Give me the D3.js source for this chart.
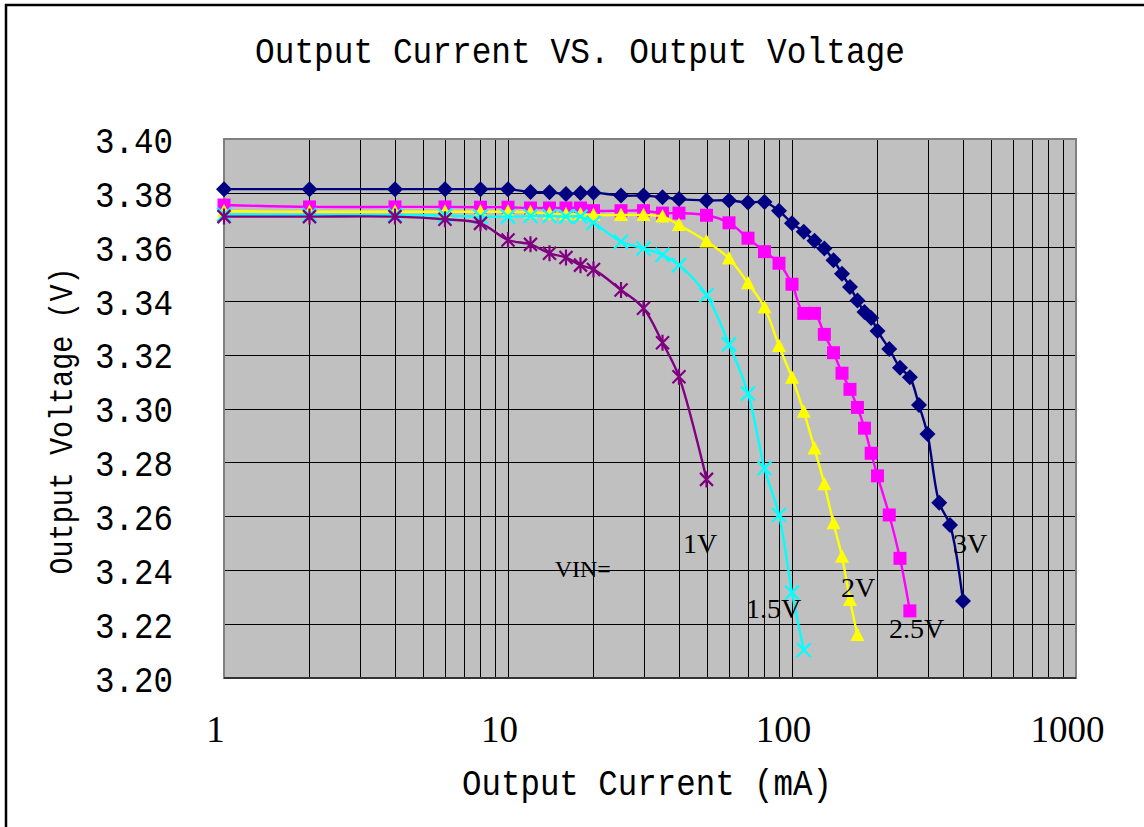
<!DOCTYPE html>
<html>
<head>
<meta charset="utf-8">
<script src="https://cdn.jsdelivr.net/npm/d3@7"></script>
<style>
html,body{margin:0;padding:0;background:#fff;}
svg{display:block;}
</style>
</head>
<body>
<svg id="chart" width="1144" height="827"></svg>
<script>
// ---- data ----
const title = "Output Current VS. Output Voltage";
const xTitle = "Output Current (mA)";
const yTitle = "Output Voltage (V)";
const xTickValues = [1, 10, 100, 1000];
const yTickValues = [3.20, 3.22, 3.24, 3.26, 3.28, 3.30, 3.32, 3.34, 3.36, 3.38, 3.40];

const current_3V = [1,2,4,6,8,10,12,14,16,18,20,25,30,35,40,50,60,70,80,90,100,110,120,130,140,150,160,170,180,190,200,220,240,260,280,300,330,360,400];
const voltage_3V = [3.3814,3.3814,3.3814,3.3814,3.3814,3.3814,3.3803,3.3802,3.3796,3.3800,3.3801,3.3790,3.3790,3.3784,3.3777,3.3772,3.3772,3.3764,3.3766,3.3734,3.3687,3.3656,3.3622,3.3594,3.3550,3.3500,3.3451,3.3401,3.3358,3.3336,3.3288,3.3221,3.3151,3.3116,3.3013,3.2905,3.2650,3.2568,3.2286];

const current_2V5 = [1,2,4,6,8,10,12,14,16,18,20,25,30,35,40,50,60,70,80,90,100,110,120,130,140,150,160,170,180,190,200,220,240,260];
const voltage_2V5 = [3.3755,3.3748,3.3748,3.3748,3.3747,3.3747,3.3744,3.3744,3.3744,3.3744,3.3734,3.3734,3.3734,3.3725,3.3725,3.3717,3.3689,3.3632,3.3582,3.3539,3.3461,3.3353,3.3353,3.3275,3.3207,3.3131,3.3071,3.3004,3.2927,3.2834,3.2750,3.2605,3.2444,3.2249];

const current_2V = [1,2,4,6,8,10,12,14,16,18,20,25,30,35,40,50,60,70,80,90,100,110,120,130,140,150,160,170];
const voltage_2V = [3.3732,3.3730,3.3730,3.3730,3.3730,3.3730,3.3728,3.3724,3.3721,3.3721,3.3718,3.3718,3.3718,3.3712,3.3681,3.3620,3.3557,3.3465,3.3375,3.3232,3.3114,3.2988,3.2852,3.2719,3.2574,3.2450,3.2289,3.2160];

const current_1V5 = [1,2,4,6,8,10,12,14,16,18,20,25,30,35,40,50,60,70,80,90,100,110];
const voltage_1V5 = [3.3720,3.3718,3.3718,3.3716,3.3712,3.3712,3.3714,3.3714,3.3712,3.3712,3.3689,3.3619,3.3594,3.3570,3.3532,3.3421,3.3238,3.3056,3.2778,3.2605,3.2317,3.2104];

const current_1V = [1,2,4,6,8,10,12,14,16,18,20,25,30,35,40,50];
const voltage_1V = [3.3712,3.3712,3.3712,3.3702,3.3687,3.3625,3.3609,3.3576,3.3560,3.3532,3.3516,3.3440,3.3372,3.3244,3.3118,3.2737];

const seriesNames = ["3V", "2.5V", "2V", "1.5V", "1V"];
const seriesColors = ["#000080", "#FF00FF", "#FFFF00", "#00FFFF", "#800080"];
const seriesMarkers = ["diamond", "square", "triangle", "cross", "star"];
const seriesCurrents = [current_3V, current_2V5, current_2V, current_1V5, current_1V];
const seriesVoltages = [voltage_3V, voltage_2V5, voltage_2V, voltage_1V5, voltage_1V];

const labelTexts = ["VIN=", "1V", "1.5V", "2V", "2.5V", "3V"];
const labelCurrents = [14.6, 41.3, 68.9, 148.8, 219.6, 368.8];
const labelVoltages = [3.2375, 3.2464, 3.2223, 3.2301, 3.2149, 3.2464];

// ---- layout ----
const W = 1144, H = 827;
const plot = {left: 224, right: 1076, top: 139, bottom: 678};
const monoFont = "'Liberation Mono', 'DejaVu Sans Mono', monospace";
const serifFont = "'Liberation Serif', 'Times New Roman', serif";

const svg = d3.select("#chart");
svg.append("rect").attr("x", 0).attr("y", 0).attr("width", W).attr("height", H).attr("fill", "#fff");
svg.append("rect").attr("x", 6).attr("y", 5).attr("width", W + 20).attr("height", H + 20)
  .attr("fill", "none").attr("stroke", "#000").attr("stroke-width", 2.5);

const x = d3.scaleLog().domain([1, 1000]).range([plot.left, plot.right]);
const y = d3.scaleLinear().domain([3.20, 3.40]).range([plot.bottom, plot.top]);

// plot background
svg.append("rect").attr("x", plot.left).attr("y", plot.top)
  .attr("width", plot.right - plot.left).attr("height", plot.bottom - plot.top)
  .attr("fill", "#C0C0C0");

// gridlines
const minorX = [];
[1, 10, 100].forEach(d => { for (let k = 1; k <= 9; k++) minorX.push(d * k); });
const grid = svg.append("g");
grid.selectAll("line.v").data(minorX.filter(v => v > 1)).join("line")
  .attr("x1", d => Math.round(x(d)) + 0.5).attr("x2", d => Math.round(x(d)) + 0.5)
  .attr("y1", plot.top).attr("y2", plot.bottom)
  .attr("stroke", "#000").attr("stroke-width", 1);
grid.selectAll("line.h").data(yTickValues.filter(v => v > 3.201 && v < 3.399)).join("line")
  .attr("x1", plot.left).attr("x2", plot.right)
  .attr("y1", d => Math.round(y(d)) + 0.5).attr("y2", d => Math.round(y(d)) + 0.5)
  .attr("stroke", "#000").attr("stroke-width", 1);

// plot border
svg.append("rect").attr("x", plot.left).attr("y", plot.top)
  .attr("width", plot.right - plot.left).attr("height", plot.bottom - plot.top)
  .attr("fill", "none").attr("stroke", "#808080").attr("stroke-width", 2);
svg.append("line").attr("x1", plot.left).attr("x2", plot.right)
  .attr("y1", plot.bottom).attr("y2", plot.bottom).attr("stroke", "#333").attr("stroke-width", 2);

// axes (labels only, like the original)
const yAxis = d3.axisLeft(y).tickValues(yTickValues).tickFormat(d3.format(".2f")).tickSize(0).tickPadding(51);
const gy = svg.append("g").attr("transform", `translate(${plot.left},0)`).call(yAxis);
gy.select(".domain").remove();
gy.selectAll("text").attr("font-family", monoFont).attr("font-size", 37).attr("fill", "#000")
  .attr("dy", "0.36em").attr("textLength", 78).attr("lengthAdjust", "spacingAndGlyphs");

const xAxis = d3.axisBottom(x).tickValues(xTickValues).tickFormat(d3.format("d")).tickSize(0).tickPadding(38);
const gx = svg.append("g").attr("transform", `translate(-9,${plot.bottom})`).call(xAxis);
gx.select(".domain").remove();
gx.selectAll("text").attr("font-family", serifFont).attr("font-size", 37).attr("fill", "#000");

// titles
svg.append("text").attr("x", 580).attr("y", 63).attr("text-anchor", "middle")
  .attr("font-family", monoFont).attr("font-size", 37).attr("fill", "#000")
  .attr("textLength", 650).attr("lengthAdjust", "spacingAndGlyphs").text(title);
svg.append("text").attr("x", 647).attr("y", 795).attr("text-anchor", "middle")
  .attr("font-family", monoFont).attr("font-size", 37).attr("fill", "#000")
  .attr("textLength", 370).attr("lengthAdjust", "spacingAndGlyphs").text(xTitle);
svg.append("text").attr("transform", "translate(72,421) rotate(-90)").attr("text-anchor", "middle")
  .attr("font-family", monoFont).attr("font-size", 34).attr("fill", "#000")
  .attr("textLength", 307).attr("lengthAdjust", "spacingAndGlyphs").text(yTitle);

// markers
function markerPath(type) {
  switch (type) {
    case "diamond": return "M0,-8L8,0L0,8L-8,0Z";
    case "square": return "M-6.5,-6.5H6.5V6.5H-6.5Z";
    case "triangle": return "M0,-7.5L7,6L-7,6Z";
    case "cross": return "M-7,-7L7,7M-7,7L7,-7";
    case "star": return "M-6.5,-6.5L6.5,6.5M-6.5,6.5L6.5,-6.5M0,-8V8";
  }
}

const line = d3.line().x(d => x(d[0])).y(d => y(d[1])).curve(d3.curveCatmullRom.alpha(0.5));

seriesNames.forEach((name, i) => {
  const pts = seriesCurrents[i].map((c, j) => [c, seriesVoltages[i][j]]);
  const g = svg.append("g").attr("class", "series");
  g.append("path").datum(pts).attr("d", line)
    .attr("fill", "none").attr("stroke", seriesColors[i]).attr("stroke-width", 2.4);
  const type = seriesMarkers[i];
  const filled = type === "diamond" || type === "square" || type === "triangle";
  g.selectAll("path.m").data(pts).join("path").attr("class", "m")
    .attr("transform", d => `translate(${x(d[0])},${y(d[1])})`)
    .attr("d", markerPath(type))
    .attr("fill", filled ? seriesColors[i] : "none")
    .attr("stroke", seriesColors[i])
    .attr("stroke-width", filled ? 0 : 2.2);
});

// VIN labels
svg.append("g").selectAll("text").data(labelTexts).join("text")
  .attr("x", (d, i) => x(labelCurrents[i]))
  .attr("y", (d, i) => y(labelVoltages[i]))
  .attr("font-family", serifFont)
  .attr("font-size", (d, i) => i === 0 ? 24 : 28)
  .attr("fill", "#000")
  .text(d => d);
</script>
</body>
</html>
